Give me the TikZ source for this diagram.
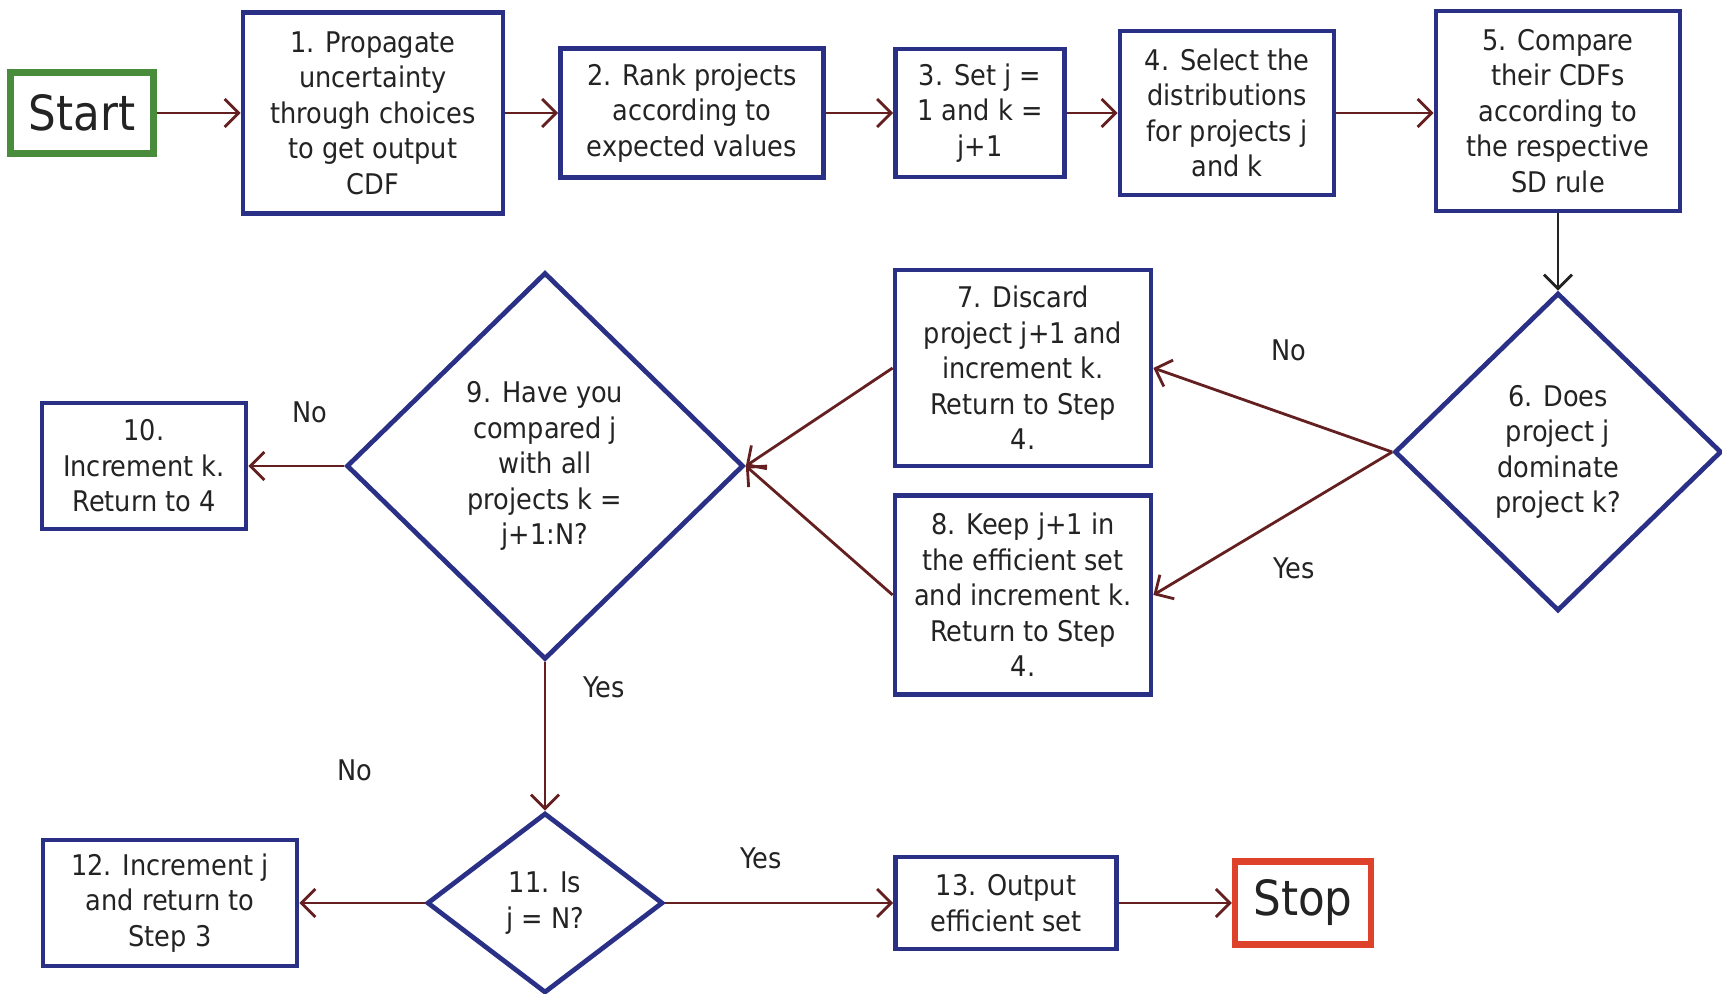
\documentclass[tikz,border=0pt]{standalone}
\usepackage{fontspec}
\setmainfont{DejaVu Sans Condensed}
\usetikzlibrary{shapes.geometric}
\usetikzlibrary{arrows.meta}

\definecolor{boxblue}{RGB}{43,48,135}
\definecolor{arrowred}{RGB}{100,32,32}
\definecolor{startgreen}{RGB}{72,140,60}
\definecolor{stopred}{RGB}{222,66,42}
\definecolor{inkgrey}{RGB}{35,35,35}

\begin{document}
\begin{tikzpicture}[font=\fontsize{8.1}{10.1}\selectfont, text=inkgrey]
            \tikzstyle{step box} = [draw=boxblue, line width=1.35pt, fill=white, align=center, inner sep=0pt]
            \tikzstyle{step diamond} = [diamond, draw=boxblue, line width=1.35pt, fill=white, align=center, inner sep=0pt]
            \tikzstyle{end box} = [line width=1.8pt, fill=white, inner sep=0pt, font=\fontsize{13.8}{16}\selectfont]
            \tikzstyle{flow} = [draw=arrowred, line width=0.8pt, -{Straight Barb[length=1.4mm, width=2.8mm]}]
            \tikzstyle{answer} = [inner sep=0pt]

            \useasboundingbox (0, 0) rectangle (17.22, -9.94);

            \node[end box, draw=startgreen, minimum width=1.43cm, minimum height=0.81cm] (start) at (0.82, -1.13) {Start};
            \node[step box, minimum width=2.60cm, minimum height=2.01cm] (s1) at (3.73, -1.13) {1. Propagate\\uncertainty\\through choices\\to get output\\CDF};
            \node[step box, minimum width=2.63cm, minimum height=1.29cm] (s2) at (6.92, -1.13) {2. Rank projects\\according to\\expected values};
            \node[step box, minimum width=1.69cm, minimum height=1.28cm] (s3) at (9.80, -1.13) {3. Set j =\\1 and k =\\j+1};
            \node[step box, minimum width=2.14cm, minimum height=1.64cm] (s4) at (12.27, -1.13) {4. Select the\\distributions\\for projects j\\and k};
            \node[step box, minimum width=2.44cm, minimum height=2.00cm] (s5) at (15.58, -1.11) {5. Compare\\their CDFs\\according to\\the respective\\SD rule};

            \node[step diamond, minimum width=3.27cm, minimum height=3.18cm] (s6) at (15.58, -4.52) {6. Does\\project j\\dominate\\project k?};
            \node[step box, minimum width=2.56cm, minimum height=1.96cm] (s7) at (10.23, -3.68) {7. Discard\\project j+1 and\\increment k.\\Return to Step\\4.};
            \node[step box, minimum width=2.56cm, minimum height=1.99cm] (s8) at (10.23, -5.95) {8. Keep j+1 in\\the efficient set\\and increment k.\\Return to Step\\4.};
            \node[step diamond, minimum width=3.97cm, minimum height=3.87cm] (s9) at (5.45, -4.66) {9. Have you\\compared j\\with all\\projects k =\\j+1:N?};
            \node[step box, minimum width=2.04cm, minimum height=1.26cm] (s10) at (1.44, -4.66) {10.\\Increment k.\\Return to 4};

            \node[step diamond, minimum width=2.36cm, minimum height=1.80cm] (s11) at (5.45, -9.03) {11. Is\\j = N?};
            \node[step box, minimum width=2.54cm, minimum height=1.26cm] (s12) at (1.70, -9.03) {12. Increment j\\and return to\\Step 3};
            \node[step box, minimum width=2.21cm, minimum height=0.92cm] (s13) at (10.06, -9.03) {13. Output\\efficient set};
            \node[end box, draw=stopred, minimum width=1.36cm, minimum height=0.83cm] (stop) at (13.03, -9.03) {Stop};

            \draw[flow] (start) -- (s1);
            \draw[flow] (s1) -- (s2);
            \draw[flow] (s2) -- (s3);
            \draw[flow] (s3) -- (s4);
            \draw[flow] (s4.east) -- (s4.east -| s5.west);
            \draw[flow, draw=inkgrey] (s5) -- (s6);
            \draw[flow] (s6.west) -- (s7.east);
            \draw[flow] (s6.west) -- (s8.east);
            \draw[flow] (s7.west) -- (s9.east);
            \draw[flow] (s8.west) -- (s9.east);
            \draw[flow] (s9) -- (s10);
            \draw[flow] (s9) -- (s11);
            \draw[flow] (s11) -- (s12);
            \draw[flow] (s11) -- (s13);
            \draw[flow] (s13) -- (stop);

            \node[answer] (no6) at (12.89, -3.50) {No};
            \node[answer] (yes6) at (12.94, -5.68) {Yes};
            \node[answer] (no9) at (3.10, -4.12) {No};
            \node[answer] (yes9) at (6.04, -6.87) {Yes};
            \node[answer] (no11) at (3.55, -7.70) {No};
            \node[answer] (yes11) at (7.61, -8.58) {Yes};
        \end{tikzpicture}
\end{document}
